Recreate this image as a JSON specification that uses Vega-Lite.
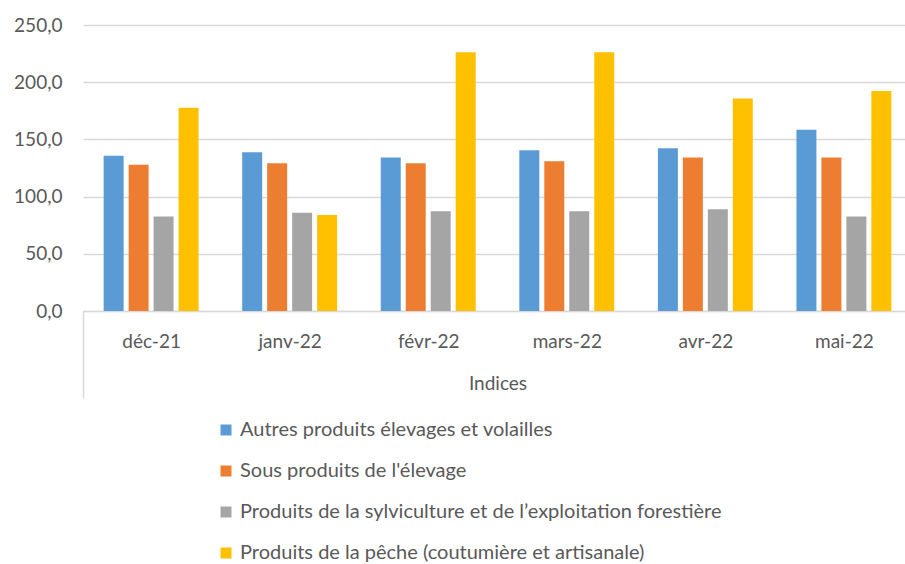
{
  "$schema": "https://vega.github.io/schema/vega-lite/v6.json",
  "width": 829,
  "height": 286,
  "autosize": {"type": "none"},
  "padding": {"left": 83, "top": 25, "right": 0, "bottom": 253},
  "background": "white",
  "data": {"values": [
    {"mois": "déc-21", "serie": "Autres produits élevages et volailles", "indice": 135.7},
    {"mois": "déc-21", "serie": "Sous produits de l'élevage", "indice": 127.8},
    {"mois": "déc-21", "serie": "Produits de la sylviculture et de l’exploitation forestière", "indice": 82.5},
    {"mois": "déc-21", "serie": "Produits de la pêche (coutumière et artisanale)", "indice": 177.7},
    {"mois": "janv-22", "serie": "Autres produits élevages et volailles", "indice": 138.8},
    {"mois": "janv-22", "serie": "Sous produits de l'élevage", "indice": 129.2},
    {"mois": "janv-22", "serie": "Produits de la sylviculture et de l’exploitation forestière", "indice": 85.8},
    {"mois": "janv-22", "serie": "Produits de la pêche (coutumière et artisanale)", "indice": 84.0},
    {"mois": "févr-22", "serie": "Autres produits élevages et volailles", "indice": 134.2},
    {"mois": "févr-22", "serie": "Sous produits de l'élevage", "indice": 129.2},
    {"mois": "févr-22", "serie": "Produits de la sylviculture et de l’exploitation forestière", "indice": 87.2},
    {"mois": "févr-22", "serie": "Produits de la pêche (coutumière et artisanale)", "indice": 226.1},
    {"mois": "mars-22", "serie": "Autres produits élevages et volailles", "indice": 140.6},
    {"mois": "mars-22", "serie": "Sous produits de l'élevage", "indice": 131.0},
    {"mois": "mars-22", "serie": "Produits de la sylviculture et de l’exploitation forestière", "indice": 87.2},
    {"mois": "mars-22", "serie": "Produits de la pêche (coutumière et artisanale)", "indice": 226.1},
    {"mois": "avr-22", "serie": "Autres produits élevages et volailles", "indice": 142.3},
    {"mois": "avr-22", "serie": "Sous produits de l'élevage", "indice": 134.2},
    {"mois": "avr-22", "serie": "Produits de la sylviculture et de l’exploitation forestière", "indice": 88.9},
    {"mois": "avr-22", "serie": "Produits de la pêche (coutumière et artisanale)", "indice": 185.8},
    {"mois": "mai-22", "serie": "Autres produits élevages et volailles", "indice": 158.4},
    {"mois": "mai-22", "serie": "Sous produits de l'élevage", "indice": 134.2},
    {"mois": "mai-22", "serie": "Produits de la sylviculture et de l’exploitation forestière", "indice": 82.5},
    {"mois": "mai-22", "serie": "Produits de la pêche (coutumière et artisanale)", "indice": 192.2}
  ]},
  "mark": {"type": "bar"},
  "encoding": {
    "x": {
      "field": "mois",
      "type": "nominal",
      "sort": ["déc-21", "janv-22", "févr-22", "mars-22", "avr-22", "mai-22"],
      "scale": {"paddingInner": 0.315, "paddingOuter": 0.149},
      "axis": {
        "title": "Indices",
        "titleFont": "Lato",
        "titleFontSize": 19,
        "titleFontWeight": "normal",
        "titleColor": "#595959",
        "titleBaseline": "middle",
        "titleY": 72,
        "labelAngle": 0,
        "labelFont": "Lato",
        "labelFontSize": 19,
        "labelColor": "#595959",
        "labelBaseline": "middle",
        "labelAlign": "center",
        "labelOffset": 20.7,
        "labelPadding": -57,
        "domainColor": "#d9d9d9",
        "domainWidth": 1.5,
        "bandPosition": 0,
        "tickOffset": -20.7,
        "tickSize": 87,
        "tickColor": "#d9d9d9",
        "tickWidth": 1.5,
        "tickOpacity": {"condition": {"test": "datum.value === 'déc-21'", "value": 1}, "value": 0}
      }
    },
    "xOffset": {
      "field": "serie",
      "type": "nominal",
      "sort": ["Autres produits élevages et volailles", "Sous produits de l'élevage", "Produits de la sylviculture et de l’exploitation forestière", "Produits de la pêche (coutumière et artisanale)"],
      "scale": {"paddingInner": 0.2, "paddingOuter": 0}
    },
    "y": {
      "field": "indice",
      "type": "quantitative",
      "scale": {"domain": [0, 250]},
      "axis": {
        "title": null,
        "values": [0, 50, 100, 150, 200, 250],
        "labelExpr": "replace(format(datum.value, '.1f'), '.', ',')",
        "labelFont": "Lato",
        "labelFontSize": 19,
        "labelColor": "#595959",
        "labelPadding": 21,
        "domain": false,
        "ticks": false,
        "gridColor": "#d9d9d9",
        "gridWidth": 1.5
      }
    },
    "color": {
      "field": "serie",
      "type": "nominal",
      "scale": {
        "domain": ["Autres produits élevages et volailles", "Sous produits de l'élevage", "Produits de la sylviculture et de l’exploitation forestière", "Produits de la pêche (coutumière et artisanale)"],
        "range": ["#5B9BD5", "#ED7D31", "#A5A5A5", "#FFC000"]
      },
      "legend": {
        "title": null,
        "orient": "none",
        "legendX": 133,
        "legendY": 395,
        "direction": "vertical",
        "symbolType": "square",
        "symbolSize": 121,
        "symbolStrokeWidth": 0,
        "labelFont": "Lato",
        "labelFontSize": 20,
        "labelColor": "#595959",
        "labelOffset": 4,
        "labelLimit": 0,
        "rowPadding": 21
      }
    }
  },
  "config": {"view": {"stroke": null}}
}
